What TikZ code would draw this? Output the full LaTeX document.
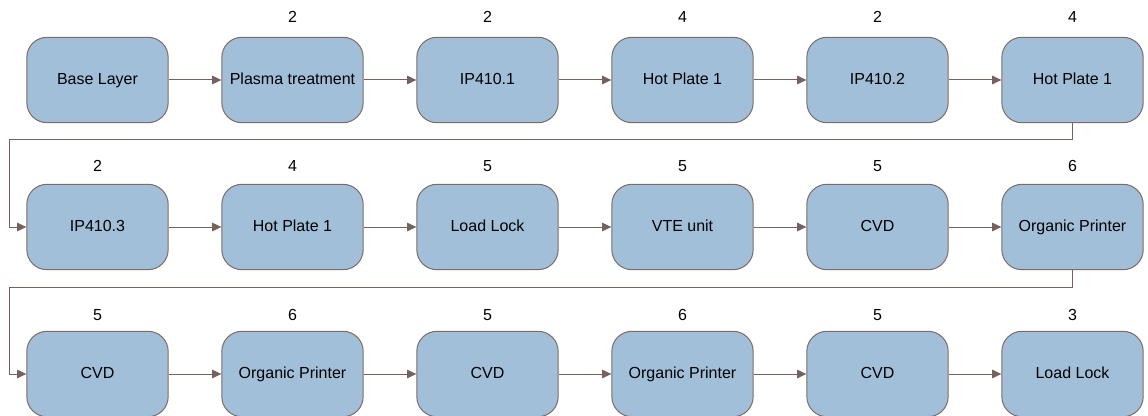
\documentclass[tikz,border=0pt]{standalone}
\usepackage{fontspec}
\setmainfont{Liberation Sans}
\usetikzlibrary{arrows.meta}
\definecolor{boxfill}{HTML}{A2BFD9}
\definecolor{boxline}{HTML}{7D6B66}
\definecolor{flowline}{HTML}{76625C}
\begin{document}
\begin{tikzpicture}[x=0.75pt,y=0.75pt,
  stage/.style={draw=boxline,fill=boxfill,rounded corners=15pt,line width=0.75pt,
    minimum width=106pt,minimum height=64pt,text height=1.55ex,text depth=0.35ex,
    inner sep=1pt,font=\fontsize{12}{14}\selectfont},
  num/.style={font=\fontsize{12}{14}\selectfont},
  flow/.style={draw=flowline,line width=0.75pt,-{Triangle[length=7pt,width=6.5pt]}}]
\useasboundingbox (0,0) rectangle (1148,415);
%first row
\node[stage] (b1) at (97.5,335) {Base Layer};
\foreach \n/\t [count=\i from 2] in {2/Plasma treatment,2/IP410.1,4/Hot Plate 1,2/IP410.2,4/Hot Plate 1}{
\node[stage] (b\i) at ({97.5+195*(\i-1)},335) {\t};
\node[num] (nb\i) at ({97.5+195*(\i-1)},398) {\n};
}
%second row
\foreach \n/\t [count=\i] in {2/IP410.3,4/Hot Plate 1,5/Load Lock,5/VTE unit,5/CVD,6/Organic Printer}{
\node[stage] (c\i) at ({97.5+195*(\i-1)},188) {\t};
\node[num] (nc\i) at ({97.5+195*(\i-1)},249) {\n};
}
%third row
\foreach \n/\t [count=\i] in {5/CVD,6/Organic Printer,5/CVD,6/Organic Printer,5/CVD,3/Load Lock}{
\node[stage] (d\i) at ({97.5+195*(\i-1)},41) {\t};
\node[num] (nd\i) at ({97.5+195*(\i-1)},100) {\n};
}
% arrows along the rows
\foreach \i [evaluate=\i as \j using int(\i+1)] in {1,...,5}{
\draw[flow] (b\i) -- (b\j);
\draw[flow] (c\i) -- (c\j);
\draw[flow] (d\i) -- (d\j);
}
% wrap to next row
\coordinate (w1) at (9,276);
\coordinate (w2) at (9,128);
\draw[flow] (b6.south) |- (w1) |- (c1.west);
\draw[flow] (c6.south) |- (w2) |- (d1.west);
\end{tikzpicture}
\end{document}
